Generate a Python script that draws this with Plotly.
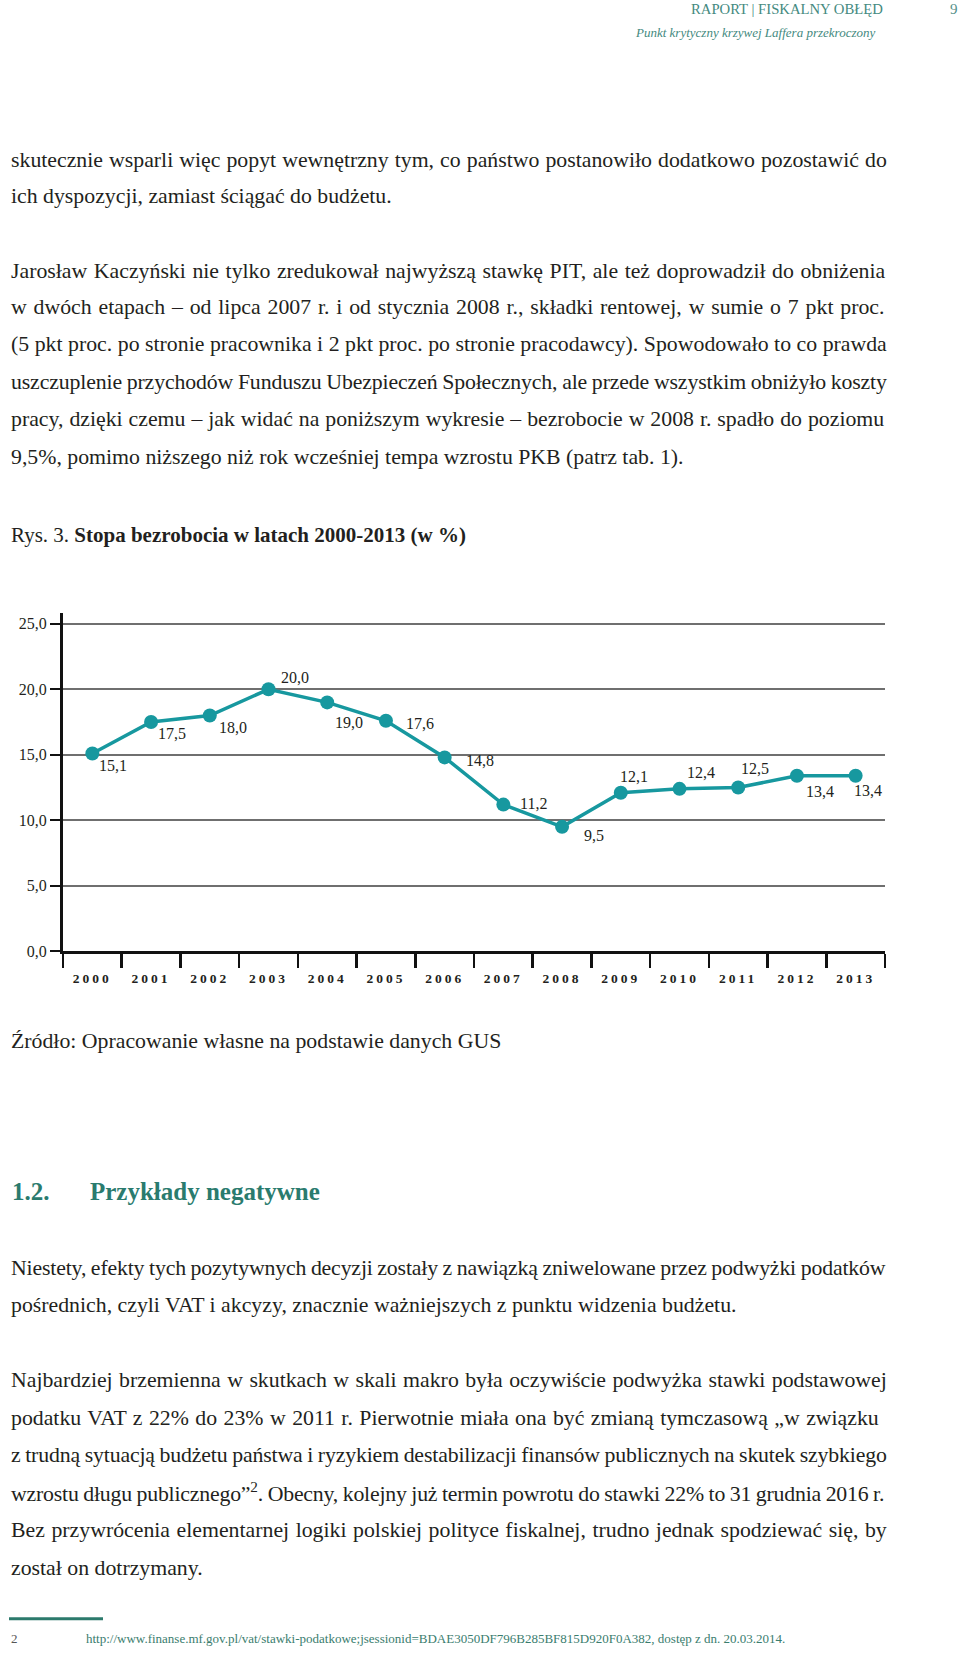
import re
import plotly.graph_objects as go

# ---------------- data ----------------
years = ["2000", "2001", "2002", "2003", "2004", "2005", "2006",
         "2007", "2008", "2009", "2010", "2011", "2012", "2013"]
unemployment = [15.1, 17.5, 18.0, 20.0, 19.0, 17.6, 14.8,
                11.2, 9.5, 12.1, 12.4, 12.5, 13.4, 13.4]
y_tick_values = [0, 5, 10, 15, 20, 25]
y_tick_labels = ["0,0", "5,0", "10,0", "15,0", "20,0", "25,0"]

# ---------------- page geometry helpers ----------------
W, H = 960, 1656
FONT = "Liberation Serif"
INK = "#231f20"
TEAL_TXT = "#2a7b6e"
LINE_COL = "#17989f"


def px(x):
    return x / W


def py(y):
    return 1 - y / H


# Times metric widths (per 1000 em) for justification estimates
_w = {' ': 250, '!': 333, '"': 408, '%': 833, '(': 333, ')': 333, ',': 250, '-': 333,
      '.': 250, '/': 278, ':': 278, ';': 278, '=': 564, '?': 444, '–': 500, '„': 444,
      '”': 444,
      'A': 722, 'B': 667, 'C': 667, 'D': 722, 'E': 611, 'F': 556, 'G': 722, 'H': 722,
      'I': 333, 'J': 389, 'K': 722, 'L': 611, 'M': 889, 'N': 722, 'O': 722, 'P': 556,
      'Q': 722, 'R': 667, 'S': 556, 'T': 611, 'U': 722, 'V': 722, 'W': 944, 'X': 722,
      'Y': 722, 'Z': 611,
      'a': 444, 'b': 500, 'c': 444, 'd': 500, 'e': 444, 'f': 333, 'g': 500, 'h': 500,
      'i': 278, 'j': 278, 'k': 500, 'l': 278, 'm': 778, 'n': 500, 'o': 500, 'p': 500,
      'q': 500, 'r': 333, 's': 389, 't': 278, 'u': 500, 'v': 500, 'w': 722, 'x': 500,
      'y': 500, 'z': 444}
for d in "0123456789":
    _w[d] = 500
_pl = {'ą': 'a', 'ć': 'c', 'ę': 'e', 'ń': 'n', 'ó': 'o', 'ś': 's', 'ź': 'z', 'ż': 'z',
       'Ą': 'A', 'Ć': 'C', 'Ę': 'E', 'Ń': 'N', 'Ó': 'O', 'Ś': 'S', 'Ź': 'Z', 'Ż': 'Z'}
_w['ł'] = 278
_w['Ł'] = 611


def plain(s):
    return re.sub(r"<[^>]+>", "", s)


def text_width(s, size):
    sup = "".join(re.findall(r"<sup>(.*?)</sup>", s))
    s = re.sub(r"<sup>(.*?)</sup>", "", s)
    tot = 0
    for ch in s:
        ch = _pl.get(ch, ch)
        tot += _w.get(ch, 500)
    tot += 0.7 * sum(_w.get(c, 500) for c in sup)
    return tot / 1000 * size


BODY_FS = 21.8
LEFT, RIGHT = 9, 885

fig = go.Figure()

# ---------------- chart ----------------
fig.add_trace(go.Scatter(
    x=list(range(len(years))), y=unemployment, mode="lines+markers",
    line=dict(color=LINE_COL, width=3.5),
    marker=dict(color=LINE_COL, size=14),
    hoverinfo="skip", showlegend=False,
))

y_bot_px, y_top_px = 956.5, 616.5
grid25_px = 627.2
y_top_val = 25 + (grid25_px - y_top_px) / ((y_bot_px - grid25_px) / 25)

fig.update_layout(
    width=W, height=H, margin=dict(l=0, r=0, t=0, b=0),
    paper_bgcolor="white", plot_bgcolor="white",
    showlegend=False,
    xaxis=dict(
        domain=[px(63), px(885)], range=[-0.5, len(years) - 0.5],
        tickmode="array", tickvals=list(range(len(years))),
        ticktext=['<span style="letter-spacing:3px">%s</span>' % y for y in years],
        ticks="outside", ticklen=12, tickcolor="rgba(0,0,0,0)",
        tickfont=dict(family=FONT, size=13.5, color=INK, weight="bold"),
        showline=True, linecolor="#111", linewidth=3,
        showgrid=False, zeroline=False,
        minor=dict(ticks="outside", ticklen=14, tickwidth=2.5, tickcolor="#111",
                   tick0=-0.5, dtick=1, showgrid=False),
        fixedrange=True,
    ),
    yaxis=dict(
        domain=[py(y_bot_px), py(y_top_px)], range=[0, y_top_val],
        tickmode="array", tickvals=y_tick_values, ticktext=y_tick_labels,
        ticks="outside", ticklen=10, tickwidth=2, tickcolor="#111",
        tickfont=dict(family=FONT, size=16, color=INK),
        showline=True, linecolor="#111", linewidth=3,
        showgrid=True, gridcolor="#6f6f6f", gridwidth=2,
        zeroline=False, fixedrange=True,
    ),
)

# data labels
label_dx = [21, 21, 23, 26, 22, 34, 35, 30, 32, 13, 21, 17, 23, 12]
label_dy = [12, 11, 12, -12, 20, 3, 3, -1, 9, -16, -16, -19, 16, 15]
for i, v in enumerate(unemployment):
    fig.add_annotation(
        x=i, y=v, xref="x", yref="y", showarrow=False,
        text=f"{v:.1f}".replace(".", ","),
        xshift=label_dx[i], yshift=-label_dy[i],
        font=dict(family=FONT, size=16, color=INK),
    )


# ---------------- page text ----------------
def add_text(x, y, text, size=BODY_FS, color=INK, anchor="left", **fontkw):
    fig.add_annotation(
        x=px(x), y=py(y), xref="paper", yref="paper", showarrow=False,
        xanchor=anchor, yanchor="middle", text=text, align=anchor,
        font=dict(family=FONT, size=size, color=color, **fontkw),
    )


def add_line(y, text, justify=False, size=BODY_FS):
    if justify:
        nat = text_width(text, size)
        n = text.count(" ")
        slack = RIGHT - LEFT - nat
        ws = slack / max(n, 1)
        ls = 0.0
        if ws < -0.6:
            ws = -0.6
            ls = (slack - ws * n) / len(plain(text))
        text = (f'<span style="word-spacing:{ws:.2f}px;letter-spacing:{ls:.3f}px">'
                f'{text}</span>')
    add_text(LEFT, y, text, size=size)


# header
add_text(885, 9.5, "RAPORT | FISKALNY OBŁĘD", size=14.7, color="#448a80", anchor="right")
add_text(954, 9.5, "9", size=15, color="#55908a", anchor="center")
add_text(877, 33, "Punkt krytyczny krzywej Laffera przekroczony", size=13,
         color="#448a80", anchor="right", style="italic")

body = [
    (161, "skutecznie wsparli więc popyt wewnętrzny tym, co państwo postanowiło dodatkowo pozostawić do", True),
    (197, "ich dyspozycji, zamiast ściągać do budżetu.", False),
    (272, "Jarosław Kaczyński nie tylko zredukował najwyższą stawkę PIT, ale też doprowadził do obniżenia", True),
    (309, "w dwóch etapach – od lipca 2007 r. i od stycznia 2008 r., składki rentowej, w sumie o 7 pkt proc.", True),
    (346, "(5 pkt proc. po stronie pracownika i 2 pkt proc. po stronie pracodawcy). Spowodowało to co prawda", True),
    (384, "uszczuplenie przychodów Funduszu Ubezpieczeń Społecznych, ale przede wszystkim obniżyło koszty", True),
    (421, "pracy, dzięki czemu – jak widać na poniższym wykresie – bezrobocie w 2008 r. spadło do poziomu", True),
    (459, "9,5%, pomimo niższego niż rok wcześniej tempa wzrostu PKB (patrz tab. 1).", False),
    (1046.5, "Źródło: Opracowanie własne na podstawie danych GUS", False),
    (1274.5, "Niestety, efekty tych pozytywnych decyzji zostały z nawiązką zniwelowane przez podwyżki podatków", True),
    (1312.5, "pośrednich, czyli VAT i akcyzy, znacznie ważniejszych z punktu widzenia budżetu.", False),
    (1387.5, "Najbardziej brzemienna w skutkach w skali makro była oczywiście podwyżka stawki podstawowej", True),
    (1425.5, "podatku VAT z 22% do 23% w 2011 r. Pierwotnie miała ona być zmianą tymczasową „w związku", True),
    (1463, "z trudną sytuacją budżetu państwa i ryzykiem destabilizacji finansów publicznych na skutek szybkiego", True),
    (1500.5, "wzrostu długu publicznego”<sup>2</sup>. Obecny, kolejny już termin powrotu do stawki 22% to 31 grudnia 2016 r.", True),
    (1538.5, "Bez przywrócenia elementarnej logiki polskiej polityce fiskalnej, trudno jednak spodziewać się, by", True),
    (1576.5, "został on dotrzymany.", False),
]
for y, t, j in body:
    add_line(y, t, j)

# figure title
add_text(LEFT, 538, "Rys. 3. <b>Stopa bezrobocia w latach 2000-2013 (w %)</b>", size=21)

# section heading
add_text(10, 1198, "<b>1.2.</b>", size=25, color=TEAL_TXT)
add_text(88, 1198, "<b>Przykłady negatywne</b>", size=25, color=TEAL_TXT)

# footnote
fig.add_shape(type="line", xref="paper", yref="paper",
              x0=px(9), x1=px(103), y0=py(1627.5), y1=py(1627.5),
              line=dict(color="#2c7a6c", width=3))
add_text(9, 1647.5, "2", size=13, color="#555555")
add_text(84, 1647.5,
         "http://www.finanse.mf.gov.pl/vat/stawki-podatkowe;jsessionid=BDAE3050DF796B285BF815D920F0A382, dostęp z dn. 20.03.2014.",
         size=13, color="#3a7d6e")

fig.write_html("out.html", config={"displayModeBar": False, "staticPlot": True},
               post_script="document.body.style.margin='0px';")
